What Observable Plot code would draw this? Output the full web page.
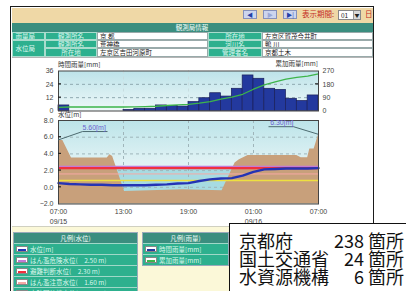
<!DOCTYPE html>
<html><head><meta charset="utf-8">
<script src="https://cdn.jsdelivr.net/npm/d3@7"></script>
<script src="https://cdn.jsdelivr.net/npm/@observablehq/plot@0.6"></script>
<style>
html,body{margin:0;padding:0;}
body{width:406px;height:291px;overflow:hidden;position:relative;background:#fff;font-family:"Noto Sans CJK JP","Noto Sans",sans-serif;}
.a{position:absolute;box-sizing:border-box;white-space:nowrap;}
.c{overflow:hidden;font-size:6.5px;line-height:7px;}
.lbl{background:#2db08e;color:#dff7ee;text-align:center;border:0.5px solid #a9dccd;}
.val{background:#fff;color:#222;padding-left:2px;border:0.5px solid #9aa;}
.btn{width:14px;height:9px;background:#ccd5ee;border:1px solid #8590ba;font-size:6px;line-height:7px;text-align:center;color:#2340a8;}
.lg{font-size:6.5px;line-height:10px;color:#d9f7ec;background:#2db08e;border-top:1px solid #9fd8c8;padding-left:16px;height:10px;overflow:hidden;}
.sw{position:absolute;left:2px;top:2px;width:12px;height:6px;background:#fff;border:0.5px solid #888;box-sizing:border-box;}
.sw i{position:absolute;left:1px;right:1px;top:1.5px;height:2px;}
.big{font-family:"Noto Sans CJK JP",sans-serif;font-size:18px;line-height:18px;height:18px;color:#111;}
</style></head>
<body>
<svg width="0" height="0" style="position:absolute"><defs>
<linearGradient id="rainGrad" x1="0" y1="0" x2="0" y2="1"><stop offset="0" stop-color="#bde3e9"/><stop offset="1" stop-color="#eef8f9"/></linearGradient>
<linearGradient id="wlGrad" x1="0" y1="0" x2="0" y2="1"><stop offset="0" stop-color="#bce4e9"/><stop offset="0.5" stop-color="#e0f2f4"/><stop offset="1" stop-color="#eaf7f8"/></linearGradient>
</defs></svg>

<div class="a" style="left:10px;top:6px;width:364px;height:300px;border:1.5px solid #1b1b1b;"></div>
<div class="a" style="left:11.5px;top:7.5px;width:361px;height:15.5px;background:#efd8a6;"></div>
<div class="a btn" style="left:243px;top:9.5px;">◀</div>
<div class="a btn" style="left:263px;top:9.5px;color:#9aa8d6;">▶</div>
<div class="a btn" style="left:283px;top:9.5px;">▶|</div>
<div class="a" style="left:302px;top:8.5px;font-size:7.5px;line-height:10px;color:#c42a22;">表示期間:</div>
<div class="a" style="left:338px;top:9.5px;width:23px;height:10px;background:#fff;border:1px solid #888;font-size:6.5px;line-height:8px;padding-left:2px;color:#222;">01</div>
<div class="a" style="left:353px;top:10.5px;width:7px;height:8px;background:#d8d8d8;border-left:1px solid #999;font-size:5px;line-height:8px;text-align:center;color:#222;">▼</div>
<div class="a" style="left:365px;top:8.5px;font-size:7.5px;line-height:10px;color:#c42a22;">日</div>
<div class="a" style="left:11.5px;top:23px;width:361px;height:9px;background:#3b8e7f;color:#f2fff9;font-size:6.5px;line-height:9px;text-align:center;">観測局情報</div>
<div id="table"></div>
<div class="a" style="left:11.5px;top:56.5px;width:361px;height:1.5px;background:#b5b5b5;"></div>

<div class="a" style="left:58px;top:60px;font-size:6.5px;line-height:8px;color:#333;">時間雨量[mm]</div>
<div class="a" style="left:270px;top:59px;width:48px;text-align:right;font-size:6.5px;line-height:8px;color:#333;">累加雨量[mm]</div>

<div id="rain" class="a" style="left:0;top:58px;"></div>
<div id="wl" class="a" style="left:0;top:110px;"></div>
<div class="a" style="left:58px;top:111px;font-size:6.5px;line-height:7px;color:#333;">水位[m]</div>

<div class="a" style="left:11.5px;top:226px;width:361px;height:70px;background:#fbf8d8;border-top:1px solid #d0d0c0;"></div>
<div id="legend"></div>

<div class="a" style="left:229px;top:223px;width:190px;height:80px;background:#fff;border:1.5px solid #111;"></div>
<div id="counts"></div>

<script>
// ---- data ----
const tickHours = [0, 6, 12, 18, 24];
const hourLabels = ["07:00", "13:00", "19:00", "01:00", "07:00"];
const dateLabels = ["09/15", "", "", "09/16", ""];

// hourly rainfall [mm], 07:00 09/15 -> 07:00 09/16
const rainHourly = [5, 0, 0, 0, 0, 0, 1, 2, 2, 5, 4.5, 4, 8, 11.5, 16, 13, 20, 32, 29, 20, 19, 11, 9, 14];
// cumulative rainfall [mm] at each hour boundary
const rainCumulative = [24, 27, 27, 27, 27, 27, 27, 28, 30, 32, 37, 41, 45, 53, 64, 80, 93, 113, 147, 176, 196, 215, 227, 236, 251];
const rainTicksLeft = [0, 12, 24, 36];
const rainTicksRightLabels = ["0", "90", "180", "270"];

// water level [m]
const levelHours = [0,1,2,3,4,5,6,7,8,9,10,11,12,13,14,15,16,17,18,19,20,21,22,23,24];
const waterLevel = [0.5, 0.4, 0.35, 0.3, 0.3, 0.25, 0.25, 0.25, 0.25, 0.3, 0.35, 0.45, 0.5, 0.75, 0.95, 1.05, 1.1, 1.4, 1.85, 2.15, 2.2, 2.25, 2.25, 2.25, 2.3];
// brown cross-section band
const groundHours = [0, 0.4, 1.2, 4.5, 4.75, 5.0, 6.1, 11.5, 15.1, 16.3, 16.7, 17.5, 22.0, 22.4, 23.0, 23.2, 23.6, 24];
const groundLevel = [5.6, 5.6, 3.5, 3.5, 3.9, 3.7, -0.5, -0.3, -0.4, 2.9, 3.3, 3.8, 3.8, 3.55, 3.55, 4.6, 4.6, 6.3];
const wlTicks = [-2, 0, 2, 4, 6, 8];
const thresholdNames = ["はん濫危険水位", "避難判断水位", "はん濫注意水位", "水防団待機水位"];
const thresholdValues = [2.5, 2.3, 1.6, 0.8];
const thresholdColors = ["#c27ad6", "#f0303e", "#f6a8a4", "#eee040"];
const annotations = [{h: 0, v: 5.6, text: "5.60[m]", dir: 1}, {h: 24, v: 6.3, text: "6.30[m]", dir: -1}];

const countNames = ["京都府", "国土交通省", "水資源機構"];
const countValues = [238, 24, 6];

// ---- header table ----
const cells = [
  [11.5, 45, 32, 40, "雨量局", "lbl", "left"],
  [45, 97, 32, 40, "観測所名", "lbl"],
  [97, 208, 32, 40, "京 都", "val"],
  [208, 262, 32, 40, "所在地", "lbl"],
  [262, 372.5, 32, 40, "左京区賀茂今井町", "val"],
  [11.5, 45, 40, 56.5, "水位局", "lbl", "left"],
  [45, 97, 40, 48, "観測所名", "lbl"],
  [97, 208, 40, 48, "荒神橋", "val"],
  [208, 262, 40, 48, "河川名", "lbl"],
  [262, 372.5, 40, 48, "鴨 川", "val"],
  [45, 97, 48, 56.5, "所在地", "lbl"],
  [97, 208, 48, 56.5, "左京区吉田河原町", "val"],
  [208, 262, 48, 56.5, "管理者名", "lbl"],
  [262, 372.5, 48, 56.5, "京都土木", "val"]
];
const tbl = document.getElementById("table");
for (const [x1, x2, y1, y2, t, cls, al] of cells) {
  const d = document.createElement("div");
  d.className = "a c " + cls;
  d.style.cssText = `left:${x1}px;top:${y1}px;width:${x2 - x1}px;height:${y2 - y1}px;line-height:${y2 - y1 - 1}px;` + (al ? "text-align:left;padding-left:3px;" : "");
  d.textContent = t;
  tbl.appendChild(d);
}

// ---- rain chart ----
const rainData = rainHourly.map((v, i) => ({h: i, h2: i + 1, v}));
const cumData = rainCumulative.map((v, i) => ({h: i, v}));
const axisFont = {fontSize: 7, fill: "#444", fontFamily: "Liberation Sans, Arial, sans-serif"};

const innerTicks = (ticks, side) => (index, scales, values, dims) => {
  const g = d3.create("svg:g").attr("stroke", "#222").attr("stroke-width", 1.2);
  for (const t of ticks) {
    const y = scales.y(t);
    if (side === "left") g.append("line").attr("x1", dims.marginLeft).attr("x2", dims.marginLeft + 3).attr("y1", y).attr("y2", y);
    else g.append("line").attr("x1", dims.width - dims.marginRight - 3).attr("x2", dims.width - dims.marginRight).attr("y1", y).attr("y2", y);
  }
  return g.node();
};

const rain = Plot.plot({
  width: 345, height: 56,
  marginLeft: 58, marginRight: 27, marginTop: 12.5, marginBottom: 3.5,
  style: "background:transparent;overflow:visible;",
  x: {domain: [0, 24], axis: null},
  y: {domain: [0, 36]},
  marks: [
    Plot.frame({fill: "url(#rainGrad)"}),
    Plot.gridY([12, 24], {stroke: "#8fa9b0", strokeOpacity: 1, strokeDasharray: "3,3"}),
    Plot.gridX([6, 12, 18], {stroke: "#c8dde0", strokeOpacity: 1, strokeDasharray: "3,3"}),
    Plot.rectY(rainData, {x1: "h", x2: "h2", y: "v", fill: "#23399e", stroke: "#1a1f5a", strokeWidth: 0.7}),
    Plot.line(cumData, {x: "h", y: d => d.v * 36 / 270, stroke: "#3db54a", strokeWidth: 1.3}),
    Plot.frame({stroke: "#444", strokeWidth: 1}),
    innerTicks([12, 24], "left"),
    innerTicks([24], "right"),
    Plot.axisY({ticks: rainTicksLeft, tickSize: 0, tickPadding: 5, label: null, ...axisFont}),
    Plot.axisY({anchor: "right", ticks: rainTicksLeft, tickSize: 0, tickPadding: 4, label: null,
      tickFormat: d => rainTicksRightLabels[rainTicksLeft.indexOf(d)], ...axisFont})
  ]
});
document.getElementById("rain").appendChild(rain);

// ---- water level chart ----
const groundData = groundLevel.map((v, i) => ({h: groundHours[i], v}));
const wlData = waterLevel.map((v, i) => ({h: levelHours[i], v}));
const thrData = thresholdValues.map((v, i) => ({v, c: thresholdColors[i]}));
const xDomain = [0, 24], yDomain = [-2, 8];

const annotMark = (index, scales) => {
  const g = d3.create("svg:g");
  for (const a of annotations) {
    const px = scales.x(a.h), py = scales.y(a.v);
    const dy = a.dir > 0 ? -8.5 : -7.5;
    const ax = px + a.dir * 24.5, ay = py + dy;
    const ex = ax + a.dir * 25;
    g.append("line").attr("x1", px).attr("y1", py).attr("x2", ax).attr("y2", ay).attr("stroke", "#4d6b70").attr("stroke-width", 1);
    g.append("line").attr("x1", ax).attr("y1", ay).attr("x2", ex).attr("y2", ay).attr("stroke", "#4d6b70").attr("stroke-width", 1);
    g.append("text").attr("x", ax).attr("y", ay - 1.5).attr("text-anchor", a.dir > 0 ? "start" : "end")
      .attr("font-size", 7).attr("font-family", "Liberation Sans, Arial, sans-serif").attr("fill", "#6a5fd0").text(a.text);
  }
  return g.node();
};

const wl = Plot.plot({
  width: 345, height: 118,
  marginLeft: 58, marginRight: 27, marginTop: 10, marginBottom: 24.5,
  style: "background:transparent;overflow:visible;",
  x: {domain: xDomain},
  y: {domain: yDomain},
  marks: [
    Plot.frame({fill: "url(#wlGrad)"}),
    Plot.rect([thresholdValues[1]], {x1: xDomain[0], x2: xDomain[1], y1: yDomain[0], y2: d => d, fill: "#a7dbe2"}),
    Plot.gridY([0, 2, 4, 6], {stroke: "#9fb5ba", strokeOpacity: 1, strokeDasharray: "3,3"}),
    Plot.gridX([6, 12, 18], {stroke: "#9fb5ba", strokeOpacity: 1, strokeDasharray: "3,3"}),
    Plot.areaY(groundData, {x: "h", y1: yDomain[0], y2: "v", fill: "#c8a07b"}),
    Plot.ruleY([thrData[2]], {y: "v", stroke: "c", strokeWidth: 1}),
    Plot.ruleY([thrData[3]], {y: "v", stroke: "c", strokeWidth: 1.5}),
    Plot.ruleY([thrData[1]], {y: "v", stroke: "c", strokeWidth: 2.5}),
    Plot.ruleY([thrData[0]], {y: "v", stroke: "c", strokeWidth: 1.2}),
    Plot.line(wlData, {x: "h", y: "v", stroke: "#2433b4", strokeWidth: 2.4}),
    Plot.frame({stroke: "#444", strokeWidth: 1}),
    innerTicks([0, 2, 4, 6], "left"),
    annotMark,
    Plot.axisY({ticks: wlTicks, tickSize: 0, tickPadding: 5, label: null, tickFormat: d3.format(".1f"), ...axisFont}),
    Plot.axisX({ticks: tickHours, tickSize: 0, tickPadding: 3, label: null, lineHeight: 1.45,
      tickFormat: d => { const i = tickHours.indexOf(d); return hourLabels[i] + (dateLabels[i] ? "\n" + dateLabels[i] : ""); }, ...axisFont})
  ]
});
document.getElementById("wl").appendChild(wl);

// ---- legends ----
const lgWater = [["水位[m]", "#2433b4"]].concat(thresholdNames.map((n, i) => [`${n}(　${thresholdValues[i].toFixed(2)} m)`, thresholdColors[i]]));
const lgRain = [["時間雨量[mm]", "#23399e"], ["累加雨量[mm]", "#3db54a"]];
const lgEl = document.getElementById("legend");
function legendBox(left, width, title, rows) {
  const box = document.createElement("div");
  box.className = "a";
  box.style.cssText = `left:${left}px;top:232px;width:${width}px;border:1px solid #9ab;background:#fbf8d8;overflow:hidden;`;
  const h = document.createElement("div");
  h.style.cssText = "height:10px;background:#3b8e7f;color:#f2fff9;font-size:6.5px;line-height:10px;text-align:center;";
  h.textContent = title;
  box.appendChild(h);
  for (const [t, c] of rows) {
    const r = document.createElement("div");
    r.className = "lg";
    r.style.position = "relative";
    r.innerHTML = `<span class="sw"><i style="background:${c}"></i></span>${t}`;
    box.appendChild(r);
  }
  lgEl.appendChild(box);
}
legendBox(13, 125, "凡例(水位)", lgWater);
legendBox(142, 87, "凡例(雨量)", lgRain);

// ---- counts overlay ----
const cEl = document.getElementById("counts");
countNames.forEach((n, i) => {
  const top = 231 + i * 18;
  cEl.insertAdjacentHTML("beforeend",
    `<div class="a big" style="left:239px;top:${top}px;">${n}</div>` +
    `<div class="a big" style="left:334px;width:30px;text-align:right;top:${top}px;">${countValues[i]}</div>` +
    `<div class="a big" style="left:368px;top:${top}px;">箇所</div>`);
});
</script>
</body></html>
